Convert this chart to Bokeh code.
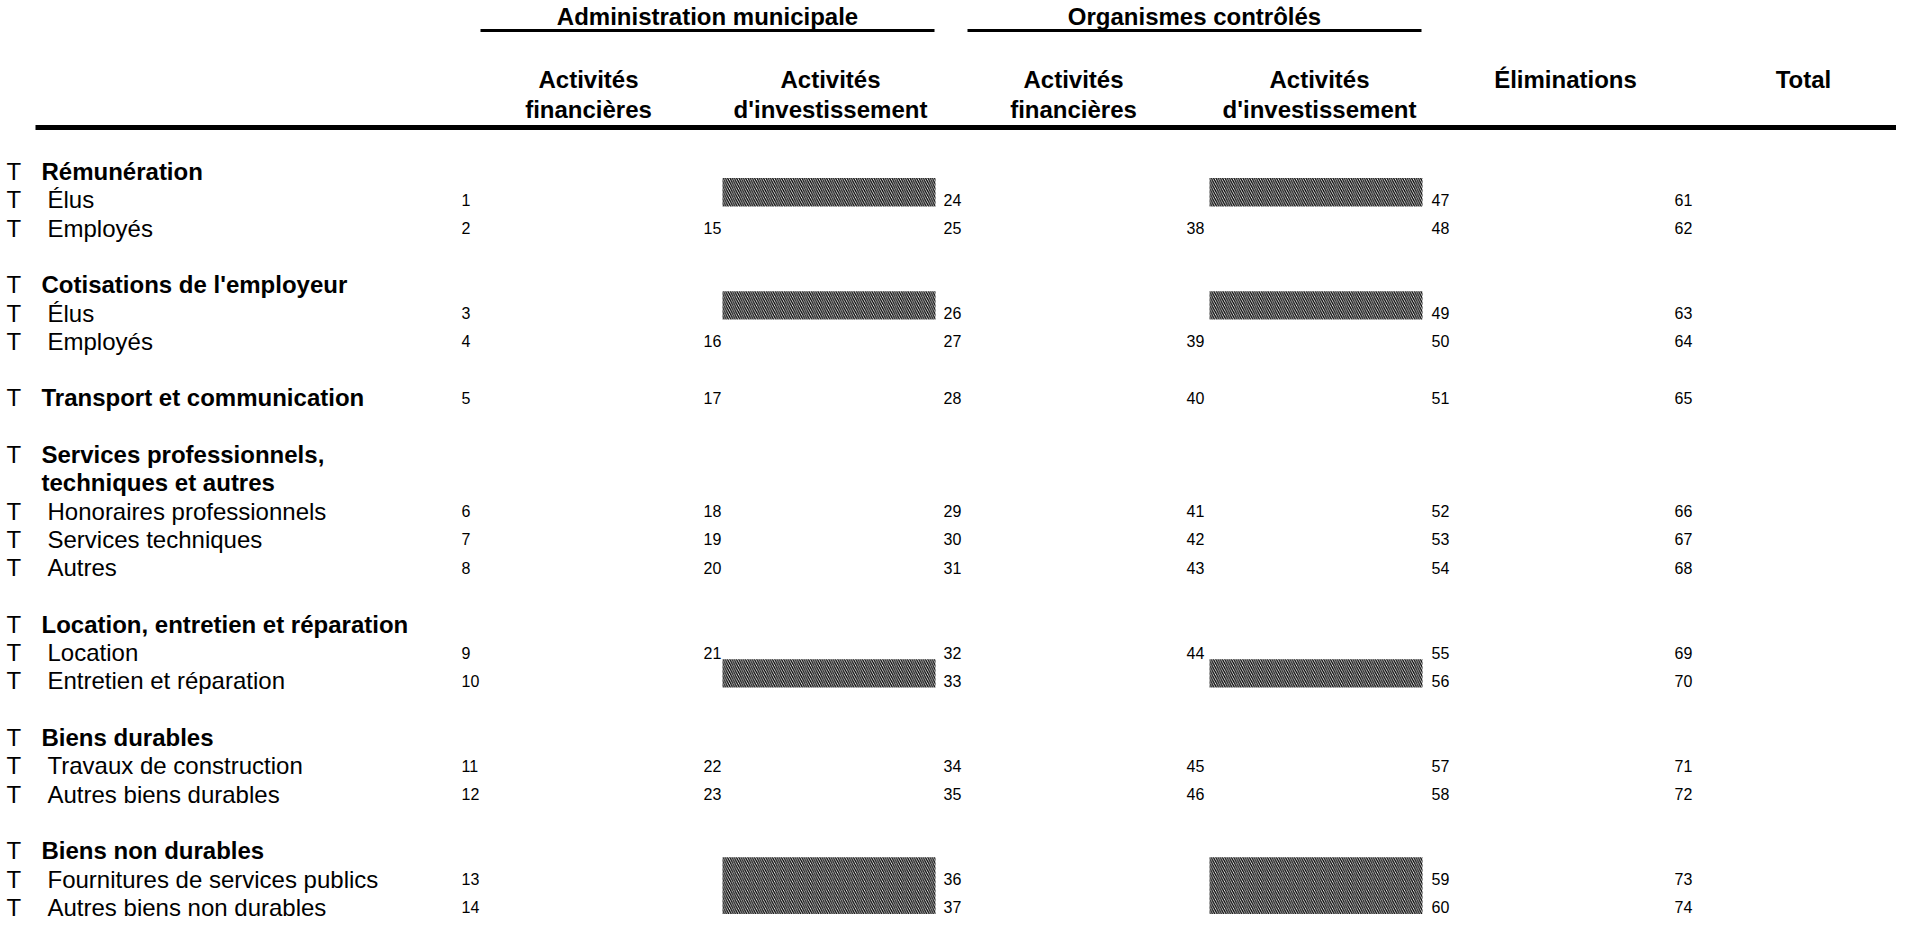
from bokeh.plotting import figure
from bokeh.models import Range1d
from bokeh.core.properties import value
from bokeh.embed import file_html
from bokeh.resources import INLINE

# ---------------- data ----------------
group_headers = ["Administration municipale", "Organismes contrôlés"]
column_headers_line1 = ["Activités", "Activités", "Activités", "Activités", "Éliminations", "Total"]
column_headers_line2 = ["financières", "d'investissement", "financières", "d'investissement", "", ""]

row_labels = [
    "Rémunération", "Élus", "Employés", "",
    "Cotisations de l'employeur", "Élus", "Employés", "",
    "Transport et communication", "",
    "Services professionnels,", "techniques et autres",
    "Honoraires professionnels", "Services techniques", "Autres", "",
    "Location, entretien et réparation", "Location", "Entretien et réparation", "",
    "Biens durables", "Travaux de construction", "Autres biens durables", "",
    "Biens non durables", "Fournitures de services publics", "Autres biens non durables",
]
# kind: H = bold heading with T, C = bold continuation (no T), I = item with T, B = blank
row_kinds = ["H", "I", "I", "B",
             "H", "I", "I", "B",
             "H", "B",
             "H", "C",
             "I", "I", "I", "B",
             "H", "I", "I", "B",
             "H", "I", "I", "B",
             "H", "I", "I"]

N = None
col1 = [N, 1, 2, N, N, 3, 4, N, 5, N, N, N, 6, 7, 8, N, N, 9, 10, N, N, 11, 12, N, N, 13, 14]
col2 = [N, N, 15, N, N, N, 16, N, 17, N, N, N, 18, 19, 20, N, N, 21, N, N, N, 22, 23, N, N, N, N]
col3 = [N, 24, 25, N, N, 26, 27, N, 28, N, N, N, 29, 30, 31, N, N, 32, 33, N, N, 34, 35, N, N, 36, 37]
col4 = [N, N, 38, N, N, N, 39, N, 40, N, N, N, 41, 42, 43, N, N, 44, N, N, N, 45, 46, N, N, N, N]
col5 = [N, 47, 48, N, N, 49, 50, N, 51, N, N, N, 52, 53, 54, N, N, 55, 56, N, N, 57, 58, N, N, 59, 60]
col6 = [N, 61, 62, N, N, 63, 64, N, 65, N, N, N, 66, 67, 68, N, N, 69, 70, N, N, 71, 72, N, N, 73, 74]
columns = [col1, col2, col3, col4, col5, col6]

# rows whose investment-column cells are not applicable (hatched)
hatched_rows = [1, 5, 18, 25, 26]
hatched_columns = [1, 3]

# ---------------- layout ----------------
W, H = 1896, 920
M = 8
FONT = value("Liberation Sans")

ROW0, PITCH = 172.0, 28.3
BASE = 7.0
col_x = [469, 711, 951, 1194, 1439, 1682]
header_x = [596, 838, 1081, 1327, 1573, 1811]
group_x = [(488, 942), (975, 1429)]
hatch_x = [(730, 943), (730, 943), (730, 943), (1217, 1430)]
T_X, HEAD_X, ITEM_X = 14, 49, 55
Y_GROUP, Y_ULINE, Y_H1, Y_H2, Y_RULE = 24, 38, 87, 117, 135

p = figure(width=W, height=H, x_range=Range1d(M, M + W), y_range=Range1d(M + H, M),
           output_backend="svg", toolbar_location=None, min_border=0,
           x_axis_type=None, y_axis_type=None)
p.outline_line_color = None
p.background_fill_color = "white"
p.border_fill_color = "white"

# group headers and underlines
for (x0, x1), txt in zip(group_x, group_headers):
    p.text(x=[(x0 + x1) / 2], y=[Y_GROUP], text=[txt], text_font=FONT, text_font_size="24px",
           text_font_style="bold", text_align="center", text_baseline="middle", text_color="black")
    p.segment(x0=[x0], x1=[x1], y0=[Y_ULINE], y1=[Y_ULINE], line_width=3, line_color="black")

# column headers
p.text(x=header_x, y=[Y_H1] * 6, text=column_headers_line1, text_font=FONT, text_font_size="24px",
       text_font_style="bold", text_align="center", text_baseline="middle", text_color="black")
p.text(x=header_x, y=[Y_H2] * 6, text=column_headers_line2, text_font=FONT, text_font_size="24px",
       text_font_style="bold", text_align="center", text_baseline="middle", text_color="black")

# thick rule
p.segment(x0=[43], x1=[M + W + 5], y0=[Y_RULE], y1=[Y_RULE], line_width=5, line_color="black")

# hatched boxes (consecutive hatched rows merged into one block)
runs = []
for r in hatched_rows:
    if runs and runs[-1][1] == r - 1:
        runs[-1][1] = r
    else:
        runs.append([r, r])
lefts, rights, tops, bottoms = [], [], [], []
for c in hatched_columns:
    x0, x1 = hatch_x[c]
    for r0, r1 in runs:
        lefts.append(x0); rights.append(x1)
        tops.append(ROW0 + r0 * PITCH - 14.7)
        bottoms.append(ROW0 + r1 * PITCH + 13.6)
p.quad(left=lefts, right=rights, top=tops, bottom=bottoms, fill_color="white",
       line_color=None, hatch_pattern="\\", hatch_color="black", hatch_scale=4.5, hatch_weight=1.3)

# row labels
tx, ty, hx, hy, htxt, ix, iy, itxt = [], [], [], [], [], [], [], []
for i, (lab, kind) in enumerate(zip(row_labels, row_kinds)):
    yb = ROW0 + i * PITCH + BASE
    if kind in ("H", "I"):
        tx.append(T_X); ty.append(yb)
    if kind in ("H", "C"):
        hx.append(HEAD_X); hy.append(yb); htxt.append(lab)
    elif kind == "I":
        ix.append(ITEM_X); iy.append(yb); itxt.append(lab)

p.text(x=tx, y=ty, text=["T"] * len(tx), text_font=FONT, text_font_size="24px",
       text_align="left", text_baseline="alphabetic", text_color="black")
p.text(x=hx, y=hy, text=htxt, text_font=FONT, text_font_size="24px", text_font_style="bold",
       text_align="left", text_baseline="alphabetic", text_color="black")
p.text(x=ix, y=iy, text=itxt, text_font=FONT, text_font_size="24px",
       text_align="left", text_baseline="alphabetic", text_color="black")

# cell numbers
nx, ny, nt = [], [], []
for c, col in enumerate(columns):
    for i, v in enumerate(col):
        if v is not None:
            nx.append(col_x[c]); ny.append(ROW0 + i * PITCH + BASE); nt.append(str(v))
p.text(x=nx, y=ny, text=nt, text_font=FONT, text_font_size="16px",
       text_align="left", text_baseline="alphabetic", text_color="black")

open("out.html", "w").write(file_html(p, INLINE))
